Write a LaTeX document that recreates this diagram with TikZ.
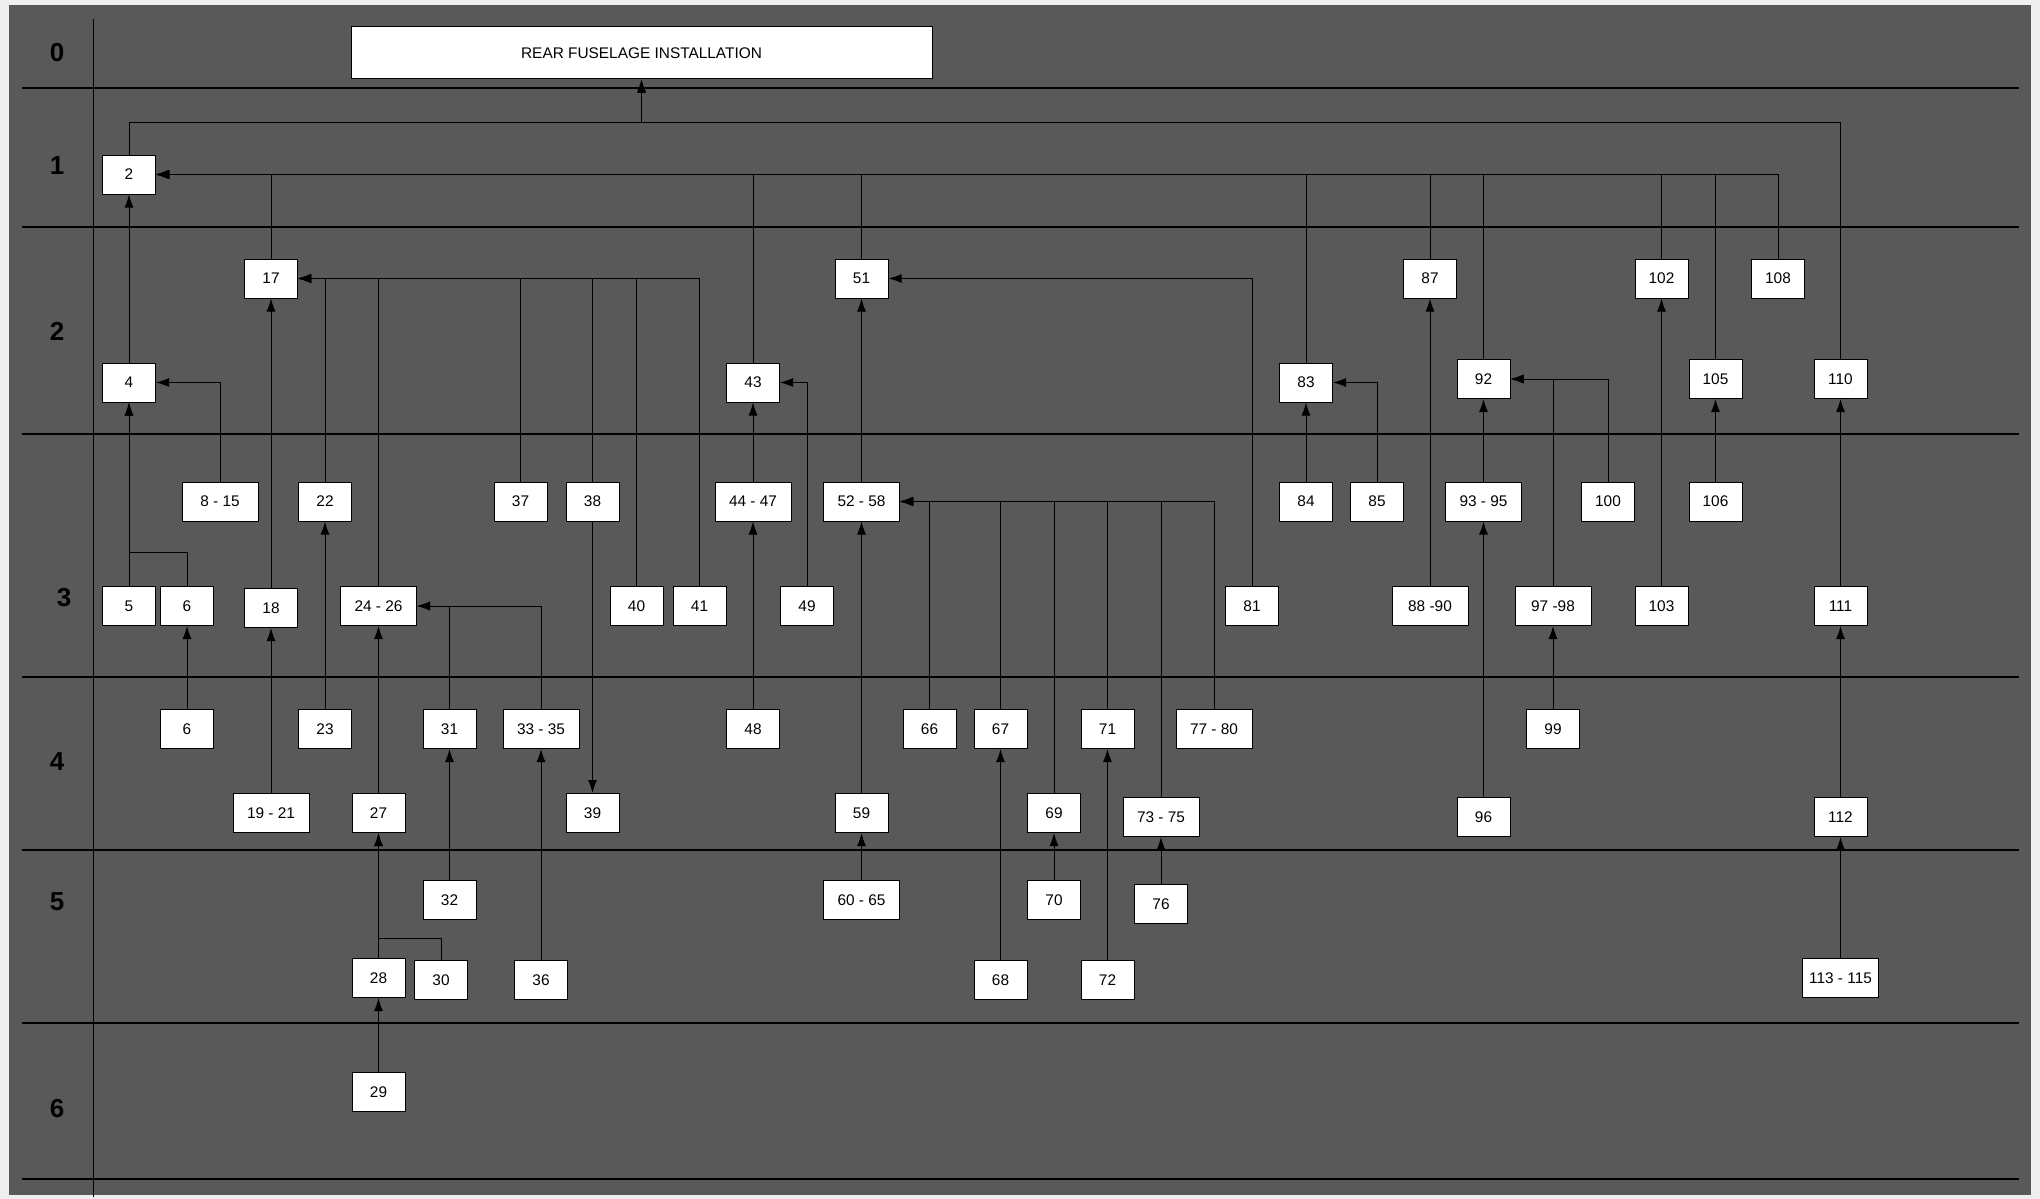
\documentclass[tikz,border=0pt]{standalone}
\usepackage{fontspec}
\setmainfont{Liberation Sans}
\usepackage{tikz}
\usetikzlibrary{arrows.meta}
\definecolor{panel}{RGB}{89,89,89}
\definecolor{margin}{RGB}{239,239,239}

\begin{document}
\begin{tikzpicture}[x=1pt, y=-1pt, >={Latex[length=13pt,width=9pt]}, line width=1pt,
  box/.style={draw, rectangle, fill=white, minimum width=53pt, minimum height=39pt, inner sep=0pt, font=\fontsize{15.4pt}{18pt}\selectfont},
  wbox/.style={box, minimum width=76pt},
  lvl/.style={font=\bfseries\fontsize{26pt}{30pt}\selectfont}]
\useasboundingbox (0,0) rectangle (2040,1199);
\fill[margin] (0,0) rectangle (2040,1199);
\fill[panel] (8.5,5) rectangle (2030.5,1195);
\foreach \y in {88,227,434,677,850,1023,1179}
  \draw[line width=1.2pt] (21.5,\y) -- (2019,\y);
\draw[line width=1.2pt] (93.5,19) -- (93.5,1197);

\node (l0) [lvl] at (57,53) {0};
\node (l1) [lvl] at (57,166) {1};
\node (l2) [lvl] at (57,331) {2};
\node (l3) [lvl] at (64,598) {3};
\node (l4) [lvl] at (57,762) {4};
\node (l5) [lvl] at (57,902) {5};
\node (l6) [lvl] at (57,1109) {6};

\node (title) [box, minimum width=581pt, minimum height=52pt] at (641.5,53) {REAR FUSELAGE INSTALLATION};

\node (n2) [box] at (129,174.5) {2};

\node (n17) [box] at (271,278.5) {17};
\node (n51) [box] at (861.5,278.5) {51};
\node (n87) [box] at (1430,278.5) {87};
\node (n102) [box] at (1661.5,278.5) {102};
\node (n108) [box] at (1778,278.5) {108};
\node (n4) [box] at (129,382.5) {4};
\node (n43) [box] at (753,382.5) {43};
\node (n83) [box] at (1306,382.5) {83};
\node (n92) [box] at (1483.5,379) {92};
\node (n105) [box] at (1715.5,379) {105};
\node (n110) [box] at (1840.5,379) {110};

\node (n8to15) [wbox] at (220,501.5) {8 - 15};
\node (n22) [box] at (325,501.5) {22};
\node (n37) [box] at (520.5,501.5) {37};
\node (n38) [box] at (592.5,501.5) {38};
\node (n44to47) [wbox] at (753,501.5) {44 - 47};
\node (n52to58) [wbox] at (861.5,501.5) {52 - 58};
\node (n84) [box] at (1306,501.5) {84};
\node (n85) [box] at (1377,501.5) {85};
\node (n93to95) [wbox] at (1483.5,501.5) {93 - 95};
\node (n100) [box] at (1608,501.5) {100};
\node (n106) [box] at (1715.5,501.5) {106};

\node (n5) [box] at (129,606) {5};
\node (n6) [box] at (187,606) {6};
\node (n18) [box] at (271,608) {18};
\node (n24to26) [wbox] at (378.5,606) {24 - 26};
\node (n40) [box] at (636.5,606) {40};
\node (n41) [box] at (699.5,606) {41};
\node (n49) [box] at (807,606) {49};
\node (n81) [box] at (1252,606) {81};
\node (n88to90) [wbox] at (1430,606) {88 -90};
\node (n97to98) [wbox] at (1553,606) {97 -98};
\node (n103) [box] at (1661.5,606) {103};
\node (n111) [box] at (1840.5,606) {111};

\node (n6b) [box] at (187,729) {6};
\node (n23) [box] at (325,729) {23};
\node (n31) [box] at (449.5,729) {31};
\node (n33to35) [wbox] at (541,729) {33 - 35};
\node (n48) [box] at (753,729) {48};
\node (n66) [box] at (929.5,729) {66};
\node (n67) [box] at (1000.5,729) {67};
\node (n71) [box] at (1107.5,729) {71};
\node (n77to80) [wbox] at (1214,729) {77 - 80};
\node (n99) [box] at (1553,729) {99};

\node (n19to21) [wbox] at (271,813) {19 - 21};
\node (n27) [box] at (378.5,813) {27};
\node (n39) [box] at (592.5,813) {39};
\node (n59) [box] at (861.5,813) {59};
\node (n69) [box] at (1054,813) {69};
\node (n73to75) [wbox] at (1161,817) {73 - 75};
\node (n96) [box] at (1483.5,817) {96};
\node (n112) [box] at (1840.5,817) {112};

\node (n32) [box] at (449.5,900) {32};
\node (n60to65) [wbox] at (861.5,900) {60 - 65};
\node (n70) [box] at (1054,900) {70};
\node (n76) [box] at (1161,904) {76};
\node (n28) [box] at (378.5,978) {28};
\node (n30) [box] at (441,980) {30};
\node (n36) [box] at (541,980) {36};
\node (n68) [box] at (1000.5,980) {68};
\node (n72) [box] at (1107.5,980) {72};
\node (n113to115) [wbox] at (1840.5,978) {113 - 115};

\node (n29) [box] at (378.5,1092) {29};

\coordinate (topbus) at (641.5,122.5);
\coordinate (j6) at (129,552);
\coordinate (j30) at (378.5,938);

\draw[->] (n2) |- (topbus) -- (title);
\draw[->] (n110) |- (topbus) -- (title);

\foreach \n in {n17,n43,n51,n83,n87,n92,n102,n105,n108}
  \draw[->] (\n) |- (n2);
\draw[->] (n4) -- (n2);

\foreach \n in {n22,n24to26,n37,n38,n40,n41}
  \draw[->] (\n) |- (n17);
\draw[->] (n18) -- (n17);
\draw[->] (n19to21) -- (n18);

\draw[->] (n8to15) |- (n4);
\draw[->] (n5) -- (n4);
\draw[->] (n6) |- (j6) -- (n4);
\draw[->] (n6b) -- (n6);
\draw[->] (n23) -- (n22);

\draw[->] (n27) -- (n24to26);
\draw[->] (n31) |- (n24to26);
\draw[->] (n33to35) |- (n24to26);
\draw[->] (n32) -- (n31);
\draw[->] (n36) -- (n33to35);
\draw[->] (n28) -- (n27);
\draw[->] (n30) |- (j30) -- (n27);
\draw[->] (n29) -- (n28);
\draw[->] (n38) -- (n39);

\draw[->] (n44to47) -- (n43);
\draw[->] (n48) -- (n44to47);
\draw[->] (n49) |- (n43);

\draw[->] (n52to58) -- (n51);
\draw[->] (n81) |- (n51);
\draw[->] (n59) -- (n52to58);
\draw[->] (n60to65) -- (n59);
\foreach \n in {n66,n67,n69,n71,n73to75,n77to80}
  \draw[->] (\n) |- (n52to58);
\draw[->] (n68) -- (n67);
\draw[->] (n70) -- (n69);
\draw[->] (n72) -- (n71);
\draw[->] (n76) -- (n73to75);

\draw[->] (n84) -- (n83);
\draw[->] (n85) |- (n83);
\draw[->] (n88to90) -- (n87);
\draw[->] (n93to95) -- (n92);
\draw[->] (n96) -- (n93to95);
\draw[->] (n97to98) |- (n92);
\draw[->] (n100) |- (n92);
\draw[->] (n99) -- (n97to98);
\draw[->] (n103) -- (n102);
\draw[->] (n106) -- (n105);
\draw[->] (n111) -- (n110);
\draw[->] (n112) -- (n111);
\draw[->] (n113to115) -- (n112);
\end{tikzpicture}
\end{document}
